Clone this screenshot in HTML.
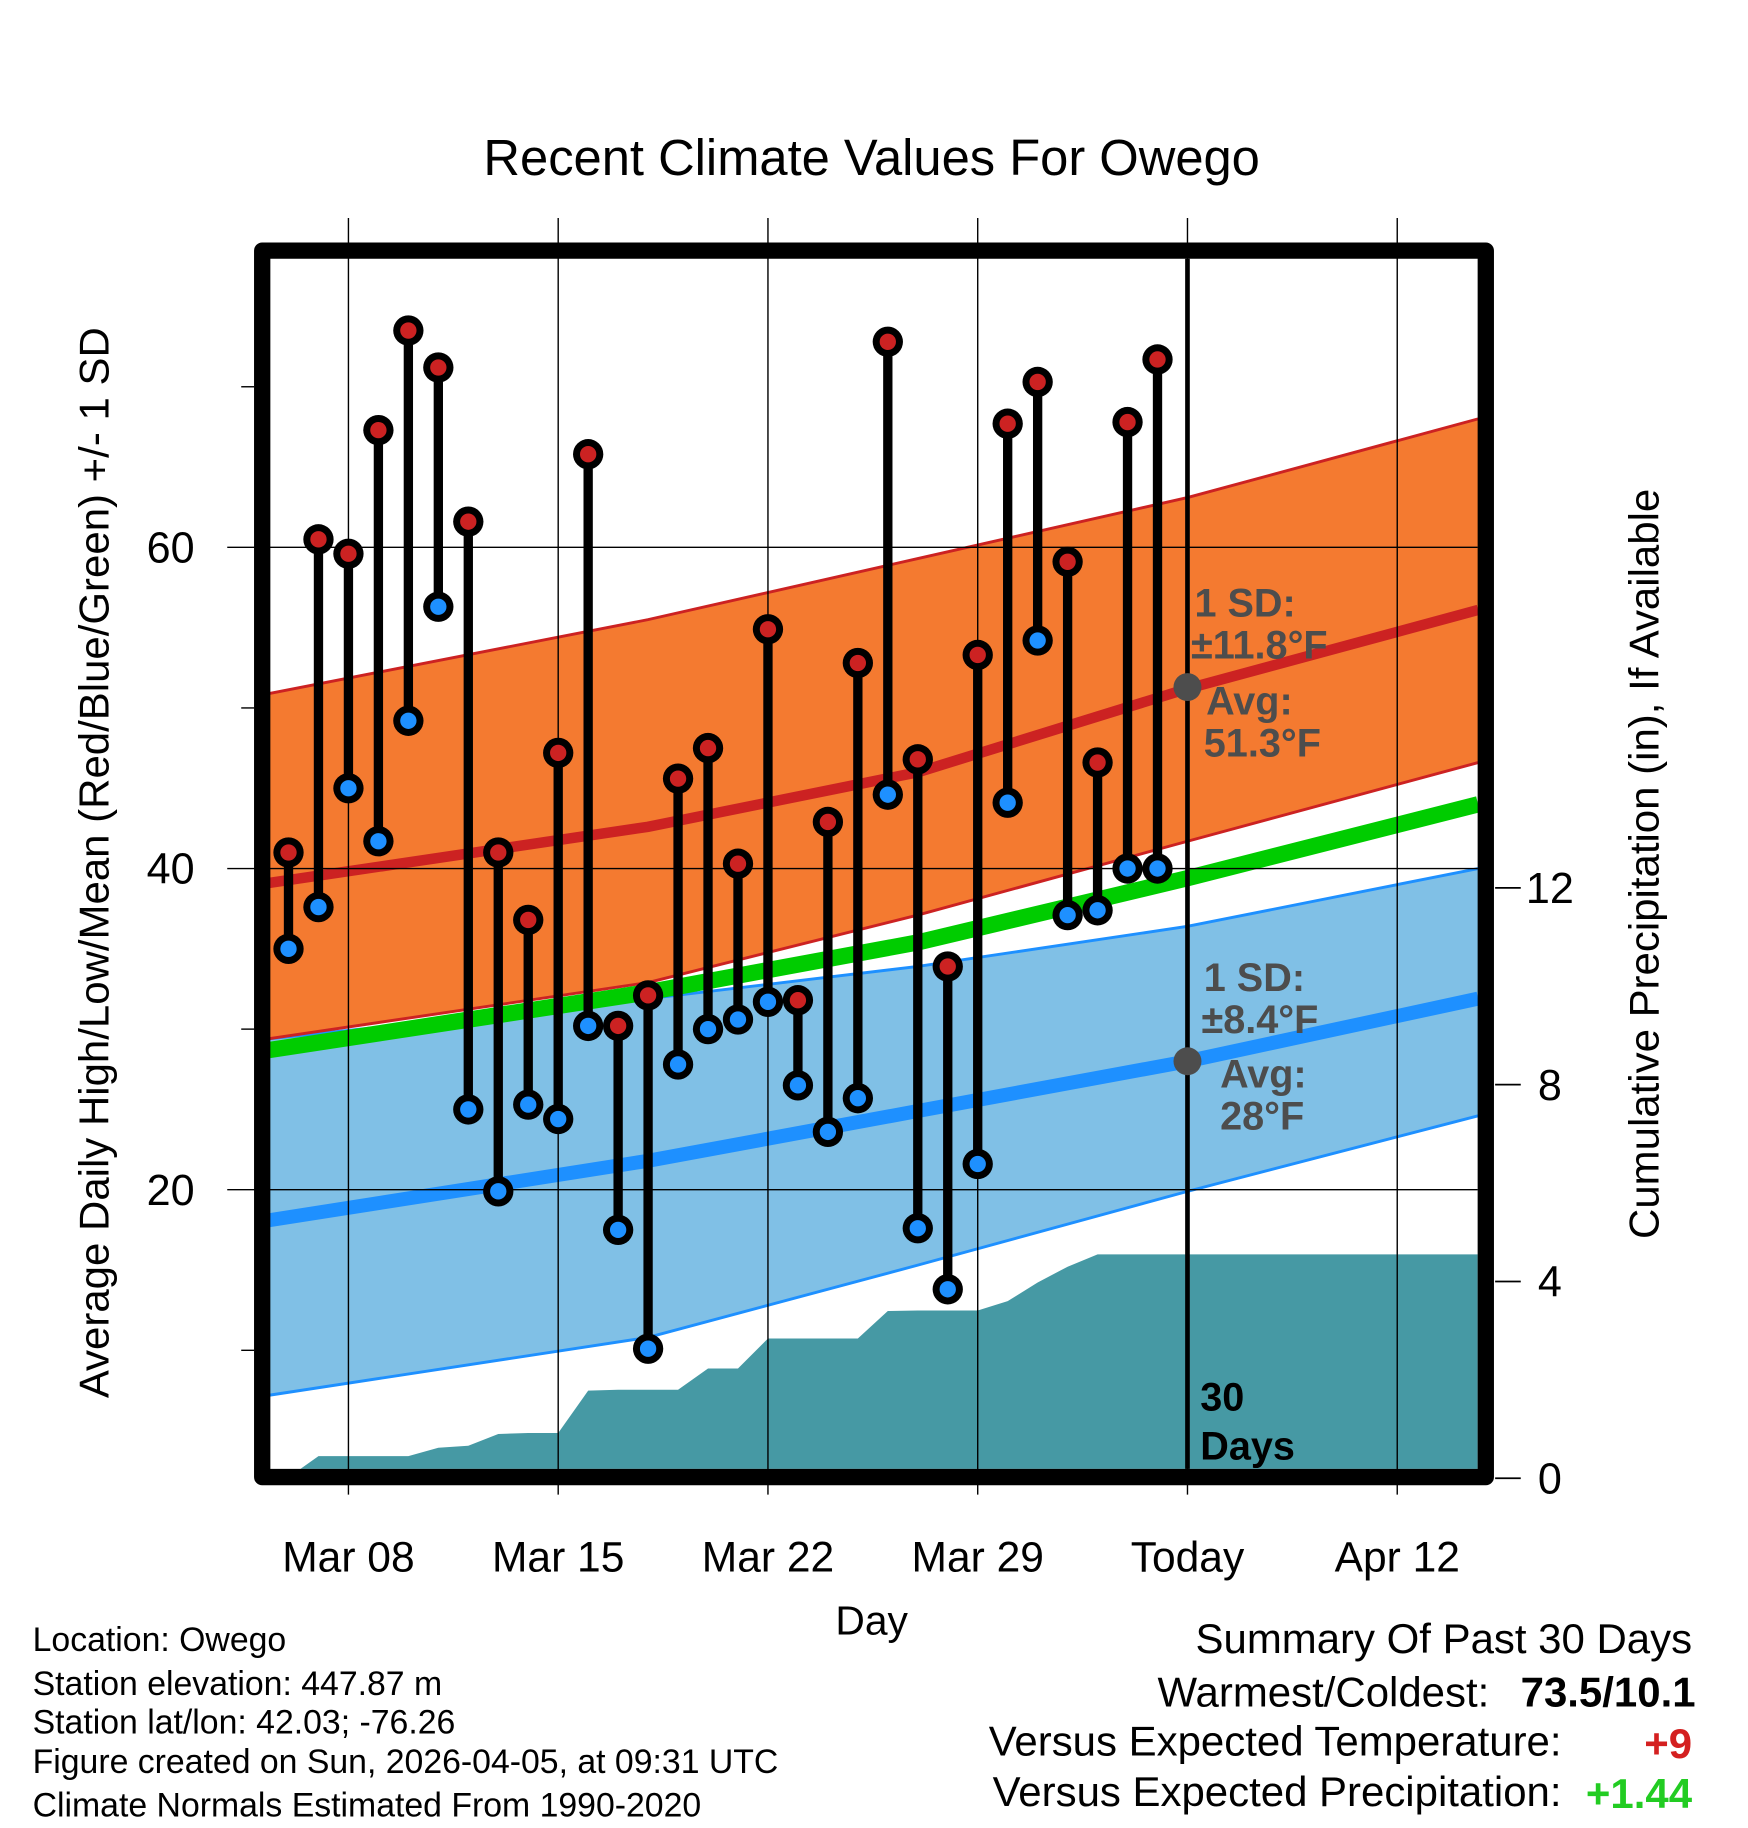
<!DOCTYPE html>
<html><head><meta charset="utf-8"><style>
html,body{margin:0;padding:0;background:#fff}
svg{display:block}
text{font-family:"Liberation Sans",Arial,sans-serif}
</style></head><body>
<svg id="chart" width="1748" height="1828" viewBox="0 0 1500 1568" preserveAspectRatio="none" xmlns="http://www.w3.org/2000/svg">
<text x="748" y="150" font-size="43.5" text-anchor="middle">Recent Climate Values For Owego</text>
<g id="bands"></g>
<g id="grid"></g>
<g id="marks"></g>
<g id="annot"></g>
<g id="axes"></g>
<text x="748" y="1402" font-size="35" text-anchor="middle">Day</text>
<text transform="translate(93,740) rotate(-90)" font-size="36" text-anchor="middle">Average Daily High/Low/Mean (Red/Blue/Green) +/- 1 SD</text>
<text transform="translate(1423,741) rotate(-90)" font-size="36" text-anchor="middle">Cumulative Precipitation (in), If Available</text>
<g font-size="29">
<text x="28" y="1416">Location: Owego</text>
<text x="28" y="1454">Station elevation: 447.87 m</text>
<text x="28" y="1487">Station lat/lon: 42.03; -76.26</text>
<text x="28" y="1521">Figure created on Sun, 2026-04-05, at 09:31 UTC</text>
<text x="28" y="1558">Climate Normals Estimated From 1990-2020</text>
</g>
<g font-size="36">
<text x="1452" y="1418" text-anchor="end">Summary Of Past 30 Days</text>
<text x="1278" y="1464" text-anchor="end">Warmest/Coldest:</text>
<text x="1455" y="1464" text-anchor="end" font-weight="bold">73.5/10.1</text>
<text x="1340" y="1506" text-anchor="end">Versus Expected Temperature:</text>
<text x="1452" y="1508" text-anchor="end" font-weight="bold" fill="#d42020">+9</text>
<text x="1340" y="1549" text-anchor="end">Versus Expected Precipitation:</text>
<text x="1452" y="1551" text-anchor="end" font-weight="bold" fill="#22cc22">+1.44</text>
</g>
</svg>
<script>
const days=[6,7,8,9,10,11,12,13,14,15,16,17,18,19,20,21,22,23,24,25,26,27,28,29,30,31,32,33,34,35];
const highs=[41,60.5,59.6,67.3,73.5,71.2,61.6,41,36.8,47.2,65.8,30.2,32.1,45.6,47.5,40.3,54.9,31.8,42.9,52.8,72.8,46.8,33.9,53.3,67.7,70.3,59.1,46.6,67.8,71.7];
const lows=[35,37.6,45,41.7,49.2,56.3,25,19.9,25.3,24.4,30.2,17.5,10.1,27.8,30,30.6,31.7,26.5,23.6,25.7,44.6,17.6,13.8,21.6,44.1,54.2,37.1,37.4,40,40];
const precip=[0,0.45,0.45,0.45,0.45,0.62,0.66,0.9,0.92,0.92,1.78,1.8,1.8,1.8,2.23,2.23,2.84,2.84,2.84,2.84,3.4,3.41,3.41,3.41,3.6,3.98,4.3,4.55,4.55,4.55];
const normDays=[5.35,18,27,36,45.7];
const hiUpper=[50.9,55.5,59.3,63.1,68.0];
const hiMean=[39.1,42.6,46.0,51.2,56.1];
const hiLower=[29.4,32.9,37.1,41.7,46.6];
const meanLine=[28.7,32.3,35.4,39.4,44.0];
const loUpper=[29.4,31.9,33.9,36.4,40.0];
const loMean=[18.1,21.8,24.9,28.0,31.9];
const loLower=[7.2,10.8,15.3,19.9,24.6];
const xTickDays=[8,15,22,29,36,43];
const xTickLabels=['Mar 08','Mar 15','Mar 22','Mar 29','Today','Apr 12'];
const yTicks=[20,40,60];
const yMinor=[10,30,50,70];
const y2Ticks=[0,4,8,12];
const todayDay=36;

const NS='http://www.w3.org/2000/svg';
const X=d=>299+(d-8)*180/7;
const Y=v=>745-(v-40)*13.775;
const Y2=p=>1268-p*42.2;
const PL=232,PR=1268,PT=222,PB=1260;
function mk(parent,tag,attrs){const e=document.createElementNS(NS,tag);for(const k in attrs)e.setAttribute(k,attrs[k]);document.getElementById(parent).appendChild(e);return e;}
function pts(ds,vs){return ds.map((d,i)=>X(d).toFixed(1)+','+Y(vs[i]).toFixed(1));}

let pp=['232,1260',X(days[0]+0.4)+',1260'];
days.forEach((d,i)=>{if(i>0)pp.push(X(d)+','+Y2(precip[i]));});
pp.push(PR+','+Y2(precip[precip.length-1]));pp.push(PR+',1260');
let e=mk('bands','polygon',{points:pp.join(' '),fill:'#4699a4'});


e=mk('bands','polygon',{points:pts(normDays,loUpper).concat(pts(normDays,loLower).reverse()).join(' '),fill:'#80c0e6'});


e=mk('bands','polyline',{points:pts(normDays,loUpper).join(' '),fill:'none',stroke:'#1e90ff','stroke-width':2.5});


e=mk('bands','polyline',{points:pts(normDays,loLower).join(' '),fill:'none',stroke:'#1e90ff','stroke-width':2.5});


e=mk('bands','polyline',{points:pts(normDays,loMean).join(' '),fill:'none',stroke:'#1e90ff','stroke-width':12});


e=mk('bands','polygon',{points:pts(normDays,hiUpper).concat(pts(normDays,hiLower).reverse()).join(' '),fill:'#f47a30'});


e=mk('bands','polyline',{points:pts(normDays,hiUpper).join(' '),fill:'none',stroke:'#cc2222','stroke-width':2.5});


e=mk('bands','polyline',{points:pts(normDays,hiLower).join(' '),fill:'none',stroke:'#cc2222','stroke-width':2.5});


e=mk('bands','polyline',{points:pts(normDays,hiMean).join(' '),fill:'none',stroke:'#cc2222','stroke-width':9});


e=mk('bands','polyline',{points:pts(normDays,meanLine).join(' '),fill:'none',stroke:'#00cc00','stroke-width':14});



xTickDays.forEach((d,i)=>{
  const g=mk('grid','line',{x1:X(d),x2:X(d),y1:187,y2:1282,stroke:'#000','stroke-width':1.2});
  
  
  const t=mk('axes','text',{x:X(d),y:1348,'font-size':36.5,'text-anchor':'middle'});t.textContent=xTickLabels[i];
  
  
});
yTicks.forEach(v=>{
  const g=mk('grid','line',{x1:195,x2:PR,y1:Y(v),y2:Y(v),stroke:'#000','stroke-width':1.2});
  
  
  const t=mk('axes','text',{x:167,y:Y(v)+13,'font-size':37,'text-anchor':'end'});t.textContent=v;
  
  
});
yMinor.forEach(v=>{
  const g=mk('grid','line',{x1:207,x2:218,y1:Y(v),y2:Y(v),stroke:'#000','stroke-width':1.2});
  
  
});
y2Ticks.forEach(p=>{
  const g=mk('axes','line',{x1:1283,x2:1305,y1:Y2(p),y2:Y2(p),stroke:'#000','stroke-width':1.5});
  
  
  const t=mk('axes','text',{x:1330,y:Y2(p)+13,'font-size':37,'text-anchor':'middle'});t.textContent=p;
  
  
});

days.forEach((d,i)=>{
  const s=mk('marks','line',{x1:X(d),x2:X(d),y1:Y(highs[i]),y2:Y(lows[i]),stroke:'#000','stroke-width':8});
  
  
});
days.forEach((d,i)=>{
  [[highs[i],'#cc2222','high-temp-marker'],[lows[i],'#1e90ff','low-temp-marker']].forEach(([v,c,n])=>{
    const o=mk('marks','circle',{cx:X(d),cy:Y(v),r:13,fill:'#000'});
    
    
    const m=mk('marks','circle',{cx:X(d),cy:Y(v),r:7,fill:c});
    
    
  });
});

e=mk('annot','line',{x1:X(todayDay),x2:X(todayDay),y1:PT,y2:PB,stroke:'#000','stroke-width':4});


function txt(x,y,s,n,fill){const t=mk('annot','text',{x:x,y:y,'font-size':34,'font-weight':'bold',fill:fill||'#4d4d4d'});t.textContent=s;
  
  }
e=mk('annot','circle',{cx:X(todayDay),cy:Y(51.3),r:12,fill:'#4d4d4d'});


e=mk('annot','circle',{cx:X(todayDay),cy:Y(28),r:12,fill:'#4d4d4d'});


txt(1025,529,'1 SD:','high-sd-label');
txt(1022,565,'±11.8°F','high-sd-value');
txt(1035,613,'Avg:','high-avg-label');
txt(1033,649,'51.3°F','high-avg-value');
txt(1033,850,'1 SD:','low-sd-label');
txt(1031,886,'±8.4°F','low-sd-value');
txt(1047,933,'Avg:','low-avg-label');
txt(1047,969,'28°F','low-avg-value');
txt(1030,1210,'30','days-count','#000');
txt(1030,1252,'Days','days-label','#000');

e=mk('axes','rect',{x:225,y:215,width:1050,height:1052,fill:'none',stroke:'#000','stroke-width':14,'stroke-linejoin':'round'});


</script>
</body></html>
